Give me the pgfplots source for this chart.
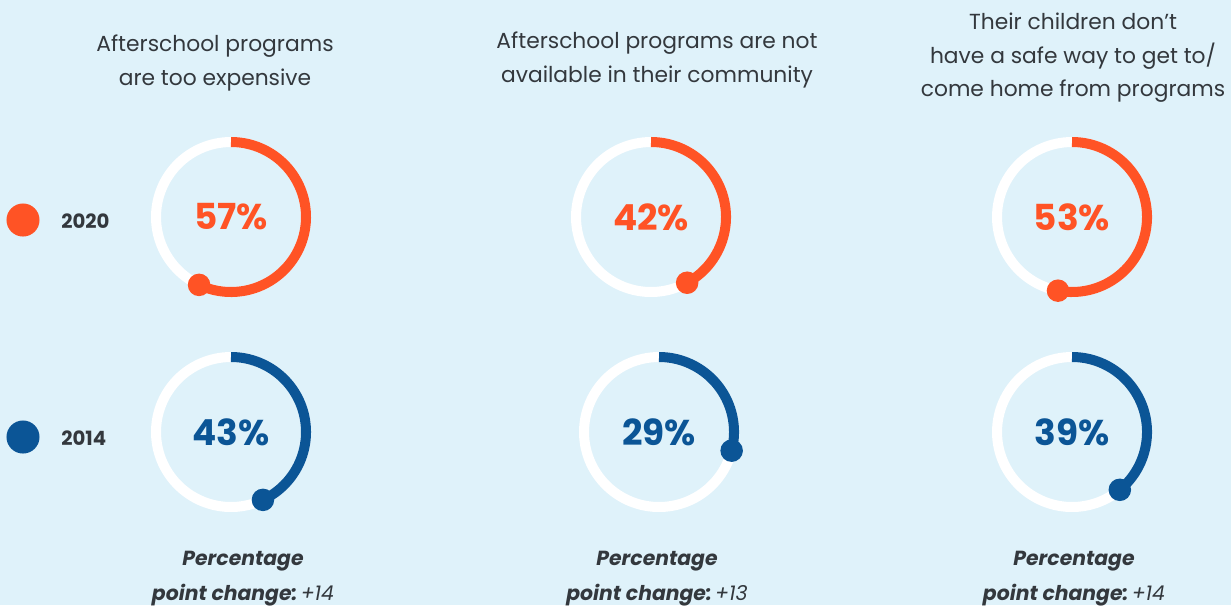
\documentclass[border=0pt]{standalone}
\usepackage{fontspec}
\setmainfont{Poppins}
\usepackage{pgfplots}
\pgfplotsset{compat=1.18}
\usepackage{pgfplotstable}
\definecolor{bg}{HTML}{DFF2FA}
\definecolor{cor}{HTML}{FF5325}
\definecolor{cbl}{HTML}{0B5596}
\definecolor{txt}{HTML}{33383D}
% centre x, centre y, value (per cent)
\pgfplotstableread{
cx  cy  val
231 388 57
651 388 42
1072 388 53
}\yeartwenty
\pgfplotstableread{
cx  cy  val
231 173 43
659 173 29
1072 173 39
}\yearfourteen
\newcommand{\ring}[4]{% cx, cy, value, colour
  \addplot[white, line width=2.85pt, domain=0:100, samples=120]
    ({#1+75*cos(90-3.6*x)}, {#2+75*sin(90-3.6*x)});
  \addplot[#4, line width=2.85pt, domain=0:#3, samples=80]
    ({#1+75*cos(90-3.6*x)}, {#2+75*sin(90-3.6*x)});
  \addplot[#4, only marks, mark=*, mark size=3pt, samples at={#3}]
    ({#1+75*cos(90-3.6*x)}, {#2+75*sin(90-3.6*x)});
  \node[text=#4, font=\fontsize{10.2}{12}\selectfont\bfseries] at (axis cs:#1,#2) {#3\%};
}
\begin{document}
\begin{tikzpicture}
\begin{axis}[
  width=12.31cm, height=6.05cm, scale only axis,
  xmin=0, xmax=1231, ymin=0, ymax=605,
  axis lines=none, ticks=none, clip=false,
]
\fill[bg] (axis cs:0,0) rectangle (axis cs:1231,605);
\ring{231}{388}{57}{cor}
\ring{651}{388}{42}{cor}
\ring{1072}{388}{53}{cor}
\ring{231}{173}{43}{cbl}
\ring{659}{173}{29}{cbl}
\ring{1072}{173}{39}{cbl}
% legend
\addplot[cor, only marks, mark=*, mark size=4.5pt] coordinates {(23,385)};
\addplot[cbl, only marks, mark=*, mark size=4.5pt] coordinates {(23,168)};
\node[anchor=west, text=txt, font=\fontsize{5.6}{7}\selectfont\bfseries] at (axis cs:49,384) {2020};
\node[anchor=west, text=txt, font=\fontsize{5.6}{7}\selectfont\bfseries] at (axis cs:49,167) {2014};
% titles
\tikzset{ttl/.style={text=txt, align=center, font=\fontsize{6.2}{9.5}\selectfont}}
\node[ttl] at (axis cs:215,542) {Afterschool programs\\are too expensive};
\node[ttl] at (axis cs:657,545) {Afterschool programs are not\\available in their community};
\node[ttl] at (axis cs:1073,547) {Their children don’t\\have a safe way to get to/\\come home from programs};
% bottom notes
\tikzset{nt/.style={text=txt, align=center, font=\fontsize{5.8}{10}\selectfont}}
\node[nt] at (axis cs:243,26) {\textbf{\textit{Percentage}}\\\textbf{\textit{point change:}}\,\textit{+14}};
\node[nt] at (axis cs:657,26) {\textbf{\textit{Percentage}}\\\textbf{\textit{point change:}}\,\textit{+13}};
\node[nt] at (axis cs:1074,26) {\textbf{\textit{Percentage}}\\\textbf{\textit{point change:}}\,\textit{+14}};
\end{axis}
\pgfresetboundingbox
\useasboundingbox (current axis.south west) rectangle (current axis.north east);
\end{tikzpicture}
\end{document}
